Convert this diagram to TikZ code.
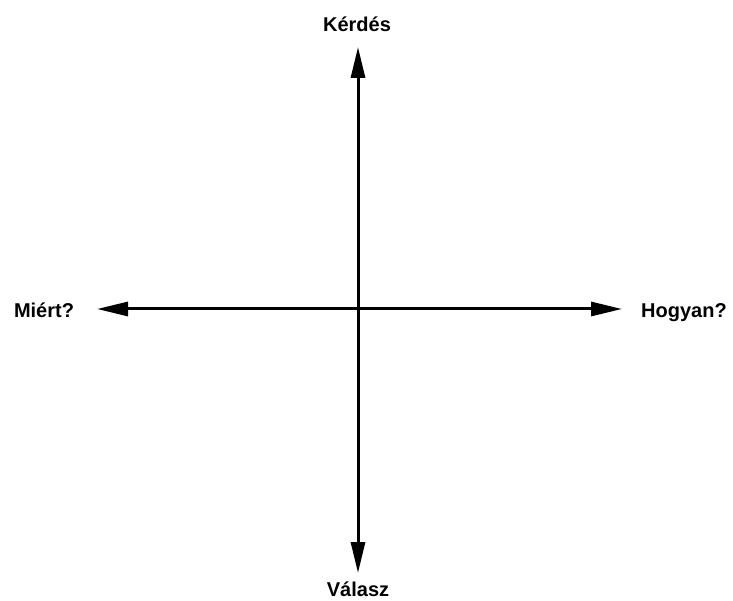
\documentclass[tikz,border=0pt]{standalone}
\usepackage{fontspec}
\setmainfont{Liberation Sans}
\usetikzlibrary{arrows.meta}
\begin{document}
\begin{tikzpicture}[x=1pt,y=-1pt,
  axis/.style={line width=3pt,{Triangle[length=31pt,width=14pt]}-{Triangle[length=31pt,width=14pt]}},
  lbl/.style={font=\fontsize{20}{22}\selectfont\bfseries,inner sep=0pt,anchor=base}]
\useasboundingbox (0,0) rectangle (733,601);
\coordinate (top) at (358,47);
\coordinate (bottom) at (358,573);
\coordinate (left) at (97,309);
\coordinate (right) at (622,309);
\draw[axis] (top) -- (bottom);
\draw[axis] (left) -- (right);
\node[lbl] (kerdes) at (357,32) {Kérdés};
\node[lbl] (valasz) at (358,596) {Válasz};
\node[lbl] (miert) at (44,318) {Miért?};
\node[lbl] (hogyan) at (684,318) {Hogyan?};
\end{tikzpicture}
\end{document}
